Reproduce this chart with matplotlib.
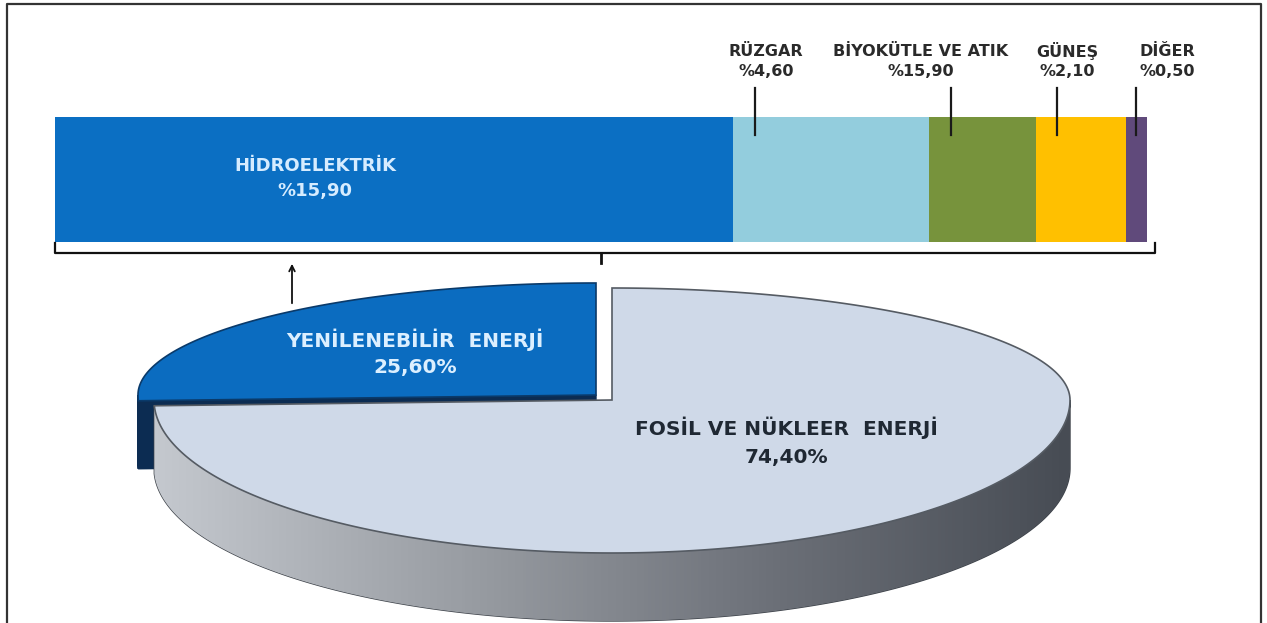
import numpy as np
import matplotlib
matplotlib.use('Agg')
import matplotlib.pyplot as plt
from matplotlib.patches import Polygon
from matplotlib.colors import LinearSegmentedColormap

# ---- data ----
pie_names = ['YENİLENEBİLİR  ENERJİ', 'FOSİL VE NÜKLEER  ENERJİ']
pie_values = [25.60, 74.40]
pie_text = ['25,60%', '74,40%']

src_names = ['HİDROELEKTRİK', 'RÜZGAR', 'BİYOKÜTLE VE ATIK', 'GÜNEŞ', 'DİĞER']
src_values = [15.9, 4.6, 2.5, 2.1, 0.5]          # bar widths as drawn
src_text = ['%15,90', '%4,60', '%15,90', '%2,10', '%0,50']  # labels as printed
src_colors = ['#0b6fc3', '#93cddd', '#77933c', '#ffc000', '#604a7b']

# ---- layout (pixels) ----
W, H = 1267, 623
plt.rcParams['font.family'] = ['DejaVu Sans']
fig = plt.figure(figsize=(W / 100, H / 100), dpi=100)

# ---- stacked bar of renewable sources ----
bx0, bx1, by0, by1 = 55, 1147, 117, 242
bax = fig.add_axes([bx0 / W, 1 - by1 / H, (bx1 - bx0) / W, (by1 - by0) / H])
total = sum(src_values)
lefts = np.concatenate([[0], np.cumsum(src_values)[:-1]])
bax.barh(0, src_values, left=lefts, height=1, color=src_colors, edgecolor='none')
bax.set_xlim(0, total)
bax.set_ylim(-0.5, 0.5)
bax.axis('off')

# leader lines for small segments
for lft, w in zip(lefts[1:], src_values[1:]):
    xl = lft + min(0.5, w / 2)
    bax.plot([xl, xl], [0.36, 0.73], color='#1a1a1a', lw=1.6, clip_on=False)

# main pixel axes on top (transparent)
ax = fig.add_axes([0, 0, 1, 1])
ax.set_zorder(3)
ax.patch.set_visible(False)
ax.axis('off')

# frame
ax.plot([7, 7, 1261, 1261], [H, 4, 4, H], color='#333333', lw=1.6)

# ---- 3D-ish pie ----
cx, cy = 612, 400
a, b_top, b_bot = 458, 112, 153
depth = 68

def rim(theta, dx=0.0, dy=0.0):
    t = np.radians(theta)
    s = np.sin(t)
    b = np.where(s >= 0, b_top, b_bot)
    return np.column_stack([cx + a * np.cos(t) + dx, cy - b * s + dy])

frac = np.array(pie_values) / sum(pie_values)
starts = 90 + 360 * np.concatenate([[0], np.cumsum(frac)[:-1]])
ends = starts + 360 * frac

# renewable slice (exploded up-left)
rdx, rdy = -16, -5
ctr = np.array([cx + rdx, cy + rdy])
pe = rim(ends[0], rdx, rdy)[0]
ax.add_patch(Polygon([ctr, pe, pe + [0, depth], ctr + [0, depth]],
                     closed=True, fc='#0c2c52', ec='#0c2c52', lw=1))
th_side = np.linspace(180, ends[0], 20)
top = rim(th_side, rdx, rdy)
ax.add_patch(Polygon(np.vstack([top, (top + [0, depth])[::-1]]),
                     closed=True, fc='#0c2c52', ec='#0c2c52', lw=1))
th = np.linspace(starts[0], ends[0], 200)
ax.add_patch(Polygon(np.vstack([ctr, rim(th, rdx, rdy)]), closed=True,
                     fc='#0b6cc0', ec='#0a3a6a', lw=1.2))

# fossil side with gradient
th_f = np.linspace(max(starts[1], 180), 360, 300)
top = rim(th_f)
side = Polygon(np.vstack([top, (top + [0, depth])[::-1]]), closed=True,
               fc='none', ec='#3c4148', lw=1)
ax.add_patch(side)
cmap = LinearSegmentedColormap.from_list('side', ['#c4c8ce', '#9a9ea4', '#6d7179', '#474c54'])
grad = np.linspace(0, 1, 256).reshape(1, -1)
im = ax.imshow(grad, cmap=cmap, aspect='auto',
               extent=[cx - a, cx + a, cy + b_bot + depth + 5, cy - 5], zorder=1)
im.set_clip_path(side)

# fossil top
th = np.linspace(starts[1], ends[1], 400)
ax.add_patch(Polygon(np.vstack([[cx, cy], rim(th)]), closed=True,
                     fc='#cfd9e8', ec='#555b63', lw=1.2, zorder=2))

ax.set_xlim(0, W)
ax.set_ylim(H, 0)

big = dict(fontsize=14.5, fontweight='bold', ha='center', va='center', zorder=5)
ax.text(415, 340, pie_names[0], color='#dcefff', **big)
ax.text(415, 368, pie_text[0], color='#dcefff', **big)
ax.text(786, 428, pie_names[1], color='#1f2833', **big)
ax.text(786, 457, pie_text[1], color='#1f2833', **big)

small = dict(fontsize=11.5, fontweight='bold', color='#2a2a2a', ha='center', va='center')
label_px = [766, 921, 1067, 1167]
for x, nm, tx in zip(label_px, src_names[1:], src_text[1:]):
    ax.text(x, 51, nm, **small)
    ax.text(x, 71, tx, **small)

mid = dict(fontsize=13, fontweight='bold', color='#d6ecff', ha='center', va='center', zorder=6)
ax.text(315, 166, src_names[0], **mid)
ax.text(315, 191, src_text[0], **mid)

# bracket and arrow
ax.plot([55, 55, 1155, 1155], [243, 253, 253, 243], color='#111111', lw=1.6)
ax.plot([601, 601], [253, 263], color='#111111', lw=2)
ax.annotate('', xy=(292, 261), xytext=(292, 306),
            arrowprops=dict(arrowstyle='->', color='#111111', lw=1.3))

fig.savefig('out.png', dpi=100)
